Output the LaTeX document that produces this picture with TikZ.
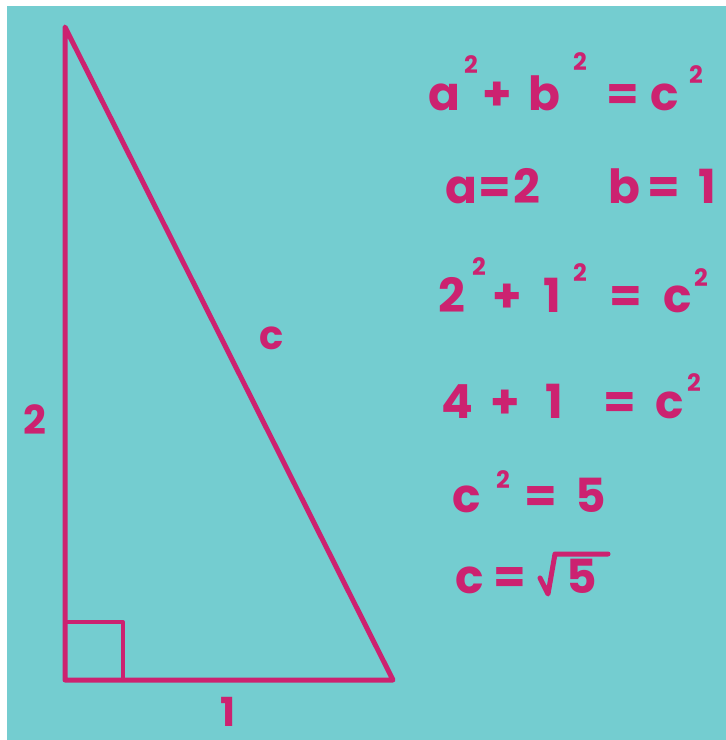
\documentclass[tikz,border=0pt]{standalone}
\usepackage{fontspec}
\setmainfont{Poppins}
\usepackage{tikz}
\definecolor{bgteal}{RGB}{116,205,208}
\definecolor{chalk}{RGB}{204,34,112}
\tikzset{
  glyph/.style={text=chalk, font=\fontsize{47}{54}\selectfont\bfseries, anchor=base, inner sep=0pt},
  supglyph/.style={text=chalk, font=\fontsize{24}{28}\selectfont\bfseries, anchor=base, inner sep=0pt},
  sidelabel/.style={text=chalk, font=\fontsize{40}{46}\selectfont\bfseries, inner sep=0pt},
  side/.style={draw=chalk, line width=5pt, line cap=round, line join=round}
}

\begin{document}
\begin{tikzpicture}[x=1pt, y=-1pt]
  \useasboundingbox (0,0) rectangle (726,740);
  \fill[white] (0,0) rectangle (726,740);
  \fill[bgteal] (7,6) rectangle (726,740);

  % triangle
  \coordinate (top) at (65,27);
  \coordinate (corner) at (65,680);
  \coordinate (right) at (393,680);
  \draw[side] (top) -- (corner) -- (right) -- cycle;
  \draw[side, line width=4pt] (65,622) -- (123,622) -- (123,680);

  \node[sidelabel] (lblA) at (35,420) {2};
  \node[sidelabel] (lblB) at (228,712) {1};
  \node[sidelabel] (lblC) at (272,338) {c};

  % working, one glyph at a time
  \foreach \x/\t [count=\i] in {444/a, 497/+, 544/b, 623/=, 665/c}
    \node[glyph] (r1-\i) at (\x,110) {\t};
  \foreach \x/\t [count=\i] in {461/a, 495/=, 527/2, 624/b, 664/=, 707/1}
    \node[glyph] (r2-\i) at (\x,203) {\t};
  \foreach \x/\t [count=\i] in {452/2, 507/+, 552/1, 626/=, 678/c}
    \node[glyph] (r3-\i) at (\x,312) {\t};
  \foreach \x/\t [count=\i] in {457/4, 505/+, 554/1, 620/=, 670/c}
    \node[glyph] (r4-\i) at (\x,418) {\t};
  \foreach \x/\t [count=\i] in {467/c, 541/=, 591/5}
    \node[glyph] (r5-\i) at (\x,512) {\t};
  \foreach \x/\t [count=\i] in {470/c, 510/=, 582/5}
    \node[glyph] (r6-\i) at (\x,593) {\t};

  % exponents
  \foreach \x/\y [count=\i] in {471/73, 580/70, 696/83, 479/275, 580/281, 701/286, 694/391, 503/488}
    \node[supglyph] (sq-\i) at (\x,\y) {2};

  % root sign
  \draw[side] (540,578) -- (548,594) -- (555,554) -- (608,554);
\end{tikzpicture}
\end{document}
